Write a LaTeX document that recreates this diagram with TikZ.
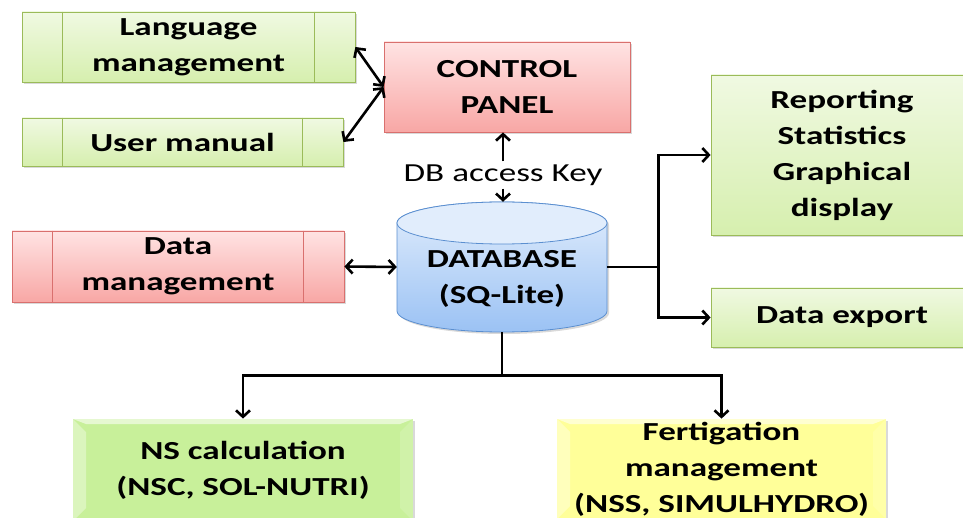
\documentclass[tikz,border=0pt]{standalone}
\usepackage{fontspec}
\setmainfont{Carlito}[FakeStretch=1.35]
\usetikzlibrary{arrows.meta,shadows}

\definecolor{greenline}{HTML}{9BBB59}
\definecolor{greentop}{HTML}{F0F9E2}
\definecolor{greenbot}{HTML}{D6EFAE}
\definecolor{redline}{HTML}{D9706E}
\definecolor{redtop}{HTML}{FFE3E3}
\definecolor{redbot}{HTML}{F8A7A5}
\definecolor{dbline}{HTML}{5B8FD0}
\definecolor{dbtop}{HTML}{E1EDFC}
\definecolor{dbbot}{HTML}{9BC2F4}
\definecolor{nsfill}{HTML}{C8F09A}
\definecolor{fertfill}{HTML}{FFFF99}

\begin{document}
\begin{tikzpicture}[x=1pt,y=1pt]
	 \tikzstyle{box}=[rectangle,draw,line width=0.8pt,align=center,inner sep=0pt,font=\bfseries\fontsize{26}{36}\selectfont,drop shadow={shadow xshift=2pt,shadow yshift=-2pt,opacity=0.3}]
	 \tikzstyle{greenbox}=[box,draw=greenline,top color=greentop,bottom color=greenbot]
	 \tikzstyle{redbox}=[box,draw=redline,top color=redtop,bottom color=redbot]
	 \tikzstyle{bevel}=[path picture={
	 	 \fill[white,opacity=0.35] (path picture bounding box.north west) -- ++(13pt,-13pt) -- ([shift={(13pt,13pt)}]path picture bounding box.south west) -- (path picture bounding box.south west) -- cycle;
	 	 \fill[white,opacity=0.55] (path picture bounding box.north west) -- ++(13pt,-5pt) -- ([shift={(-13pt,-5pt)}]path picture bounding box.north east) -- (path picture bounding box.north east) -- cycle;
	 	 \fill[white,opacity=0.15] (path picture bounding box.north east) -- ++(-13pt,-13pt) -- ([shift={(-13pt,13pt)}]path picture bounding box.south east) -- (path picture bounding box.south east) -- cycle;}]
	 \tikzstyle{nsbox}=[box,draw=none,fill=nsfill,bevel]
	 \tikzstyle{fertbox}=[box,draw=none,fill=fertfill,bevel]
	 \tikzstyle{link}=[draw,line width=2.6pt,black,>={Straight Barb[length=6.5pt,width=14pt]}]
	 \useasboundingbox (0,0) rectangle (963,517);
	 % boxes
	 \node[greenbox,minimum width=333,minimum height=70] (lang) at (188.5,470) {Language\\management};
	 \node[greenbox,minimum width=321,minimum height=48] (manual) at (182.5,375) {User manual};
	 \node[redbox,minimum width=246,minimum height=90] (ctrl) at (507,430) {CONTROL\\PANEL};
	 \node[redbox,minimum width=332,minimum height=71] (dataman) at (178,250.5) {Data\\management};
	 \node[greenbox,minimum width=262,minimum height=160] (report) at (842,362) {Reporting\\Statistics\\Graphical\\display};
	 \node[greenbox,minimum width=262,minimum height=59] (export) at (842,199.5) {Data export};
	 \node[nsbox,minimum width=340,minimum height=102] (nscalc) at (243,47) {NS calculation\\(NSC, SOL-NUTRI)};
	 \node[fertbox,minimum width=329,minimum height=100] (fert) at (721.5,48) {Fertigation\\management\\(NSS, SIMULHYDRO)};
	 \foreach \n/\c in {lang/greenline,manual/greenline,dataman/redline}{
	 	 \draw[\c,line width=0.8pt] ([xshift=41pt]\n.north west) -- ([xshift=41pt]\n.south west);
	 	 \draw[\c,line width=0.8pt] ([xshift=-41pt]\n.north east) -- ([xshift=-41pt]\n.south east);
	 }
	 % database cylinder
	 \draw[dbline,line width=0.8pt,top color=dbtop,bottom color=dbbot,drop shadow={shadow xshift=2pt,shadow yshift=-2pt,opacity=0.3}]
	 	 (397,294) -- (397,206) arc[start angle=180,end angle=360,x radius=105pt,y radius=21pt]
	 	 -- (607,294) arc[start angle=0,end angle=180,x radius=105pt,y radius=21pt] -- cycle;
	 \draw[dbline,line width=0.8pt,fill=dbtop] (502,294) ellipse[x radius=105pt,y radius=21pt];
	 \node[rectangle,minimum width=210,minimum height=130,inner sep=0pt,
	 	 label={[align=center,font=\bfseries\fontsize{26}{36}\selectfont,yshift=-12pt]center:DATABASE\\(SQ-Lite)}] (db) at (502,250) {};
	 \node[font=\fontsize{26}{36}\selectfont,inner sep=3pt] (key) at (503,342) {DB access Key};
	 % connectors
	 \draw[link,<->] (lang.east) -- (ctrl.west);
	 \draw[link,<->] (manual.east) -- (ctrl.west);
	 \draw[link,<->] (dataman.east) -- (db.west);
	 \draw[link,->] (key.north) -- (key.north |- ctrl.south);
	 \draw[link,->] (key.south) -- (key.south |- db.north);
	 \draw[link,->] (db.east) -- ++(51,0) |- (report.west);
	 \draw[link,->] (db.east) -- ++(51,0) |- (export.west);
	 \draw[link,->] (db.south) -- ++(0,-43) -| (nscalc.north);
	 \draw[link,->] (db.south) -- ++(0,-43) -| (fert.north);
\end{tikzpicture}
\end{document}
